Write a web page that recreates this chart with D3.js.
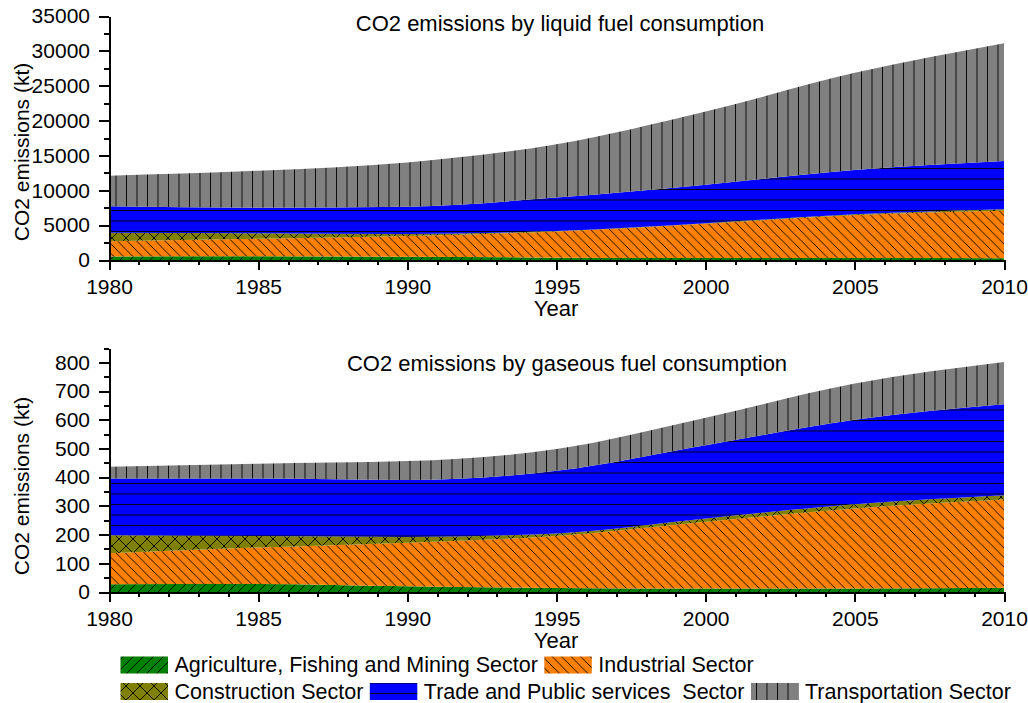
<!DOCTYPE html>
<html lang="en">
<head>
    <meta charset="UTF-8">
    <title>CO2 emissions by fuel consumption</title>
    <script src="https://d3js.org/d3.v7.min.js"></script>
    <style>
        body {
            margin: 0;
            padding: 0;
            background: #fff;
        }
        svg {
            display: block;
            font-family: "Liberation Sans", Arial, sans-serif;
        }
        .axis path,
        .axis line {
            stroke: #000;
            stroke-width: 2px;
            shape-rendering: crispEdges;
        }
        .axis text {
            font-size: 21px;
            fill: #000;
        }
        .label {
            font-size: 22px;
            fill: #000;
            white-space: pre;
        }
        .legend text {
            font-size: 21.5px;
        }
        .ylabel {
            font-size: 21px;
            fill: #000;
        }
    </style>
</head>
<body>
    <svg id="chart" width="1028" height="703"></svg>

    <script>
        // Years
        const years = [1980, 1985, 1990, 1995, 2000, 2005, 2010];

        const sectors = [
            "Agriculture, Fishing and Mining Sector",
            "Industrial Sector",
            "Construction Sector",
            "Trade and Public services  Sector",
            "Transportation Sector"
        ];
        const sectorKeys = ["agri", "ind", "cons", "trade", "trans"];

        // Liquid fuel (kt)
        const liquidAgri  = [500, 550, 480, 340, 300, 280, 250];
        const liquidInd   = [2200, 2500, 2960, 3740, 4900, 6170, 6830];
        const liquidCons  = [1200, 780, 290, 70, 80, 100, 190];
        const liquidTrade = [3800, 3670, 3920, 4800, 5520, 6350, 6930];
        const liquidTrans = [4400, 5300, 6350, 7650, 10500, 13950, 16900];

        // Gaseous fuel (kt)
        const gasAgri  = [27, 28, 20, 14, 12, 12, 15];
        const gasInd   = [108, 127, 152, 181, 233, 279, 307];
        const gasCons  = [63, 40, 20, 9, 11, 15, 15];
        const gasTrade = [197, 200, 198, 218, 255, 294, 317];
        const gasTrans = [41, 52, 66, 76, 96, 126, 147];

        // Tick labels
        const xTicks = [1980, 1985, 1990, 1995, 2000, 2005, 2010];
        const liquidTicks = [0, 5000, 10000, 15000, 20000, 25000, 30000, 35000];
        const gasTicks = [0, 100, 200, 300, 400, 500, 600, 700, 800];

        const svg = d3.select("#chart");
        const defs = svg.append("defs");

        function hatch(id, fill, size, d) {
            const p = defs.append("pattern")
                .attr("id", id)
                .attr("patternUnits", "userSpaceOnUse")
                .attr("width", size)
                .attr("height", size);
            p.append("rect").attr("width", size).attr("height", size).attr("fill", fill);
            p.append("path").attr("d", d)
                .attr("stroke", "#000")
                .attr("stroke-width", 0.9)
                .attr("fill", "none");
        }
        hatch("p-agri", "#008000", 10, "M0,10L10,0M-1,1L1,-1M9,11L11,9");
        hatch("p-ind", "#ff8000", 9.5, "M0,0L9.5,9.5M-1,8.5L1,10.5M8.5,-1L10.5,1");
        hatch("p-cons", "#808000", 14, "M0,0L14,14M14,0L0,14");
        hatch("p-trade", "#0000ff", 10.5, "M0,0.5L10.5,0.5");
        hatch("p-trans", "#808080", 10.5, "M0.5,0L0.5,10.5");

        const fills = sectorKeys.map(k => `url(#p-${k})`);

        const x = d3.scaleLinear().domain([1980, 2010]).range([109, 1004]);

        function drawPanel(opt) {
            const rows = years.map((yr, i) => {
                const r = { Year: yr };
                sectorKeys.forEach((k, j) => r[k] = opt.series[j][i]);
                return r;
            });
            const stacked = d3.stack().keys(sectorKeys)(rows);

            const y = d3.scaleLinear()
                .domain([0, opt.yMax])
                .range([opt.bottom, opt.bottom - 244]);

            const area = d3.area()
                .x(d => x(d.data.Year))
                .y0(d => y(d[0]))
                .y1(d => y(d[1]))
                .curve(d3.curveMonotoneX);

            svg.append("g")
                .selectAll("path")
                .data(stacked)
                .enter()
                .append("path")
                .attr("d", area)
                .attr("fill", (d, i) => fills[i]);

            // minor ticks
            const minorX = d3.range(1980, 2011).filter(v => v % 5 !== 0);
            svg.append("g")
                .attr("class", "axis")
                .attr("transform", `translate(0,${opt.bottom})`)
                .call(d3.axisBottom(x).tickValues(minorX).tickSize(5).tickFormat(""))
                .call(g => g.select(".domain").remove());

            const minorY = d3.range(opt.yStep / 2, opt.yMax + 1, opt.yStep);
            svg.append("g")
                .attr("class", "axis")
                .attr("transform", "translate(109,0)")
                .call(d3.axisLeft(y).tickValues(minorY).tickSize(5).tickFormat(""))
                .call(g => g.select(".domain").remove());

            svg.append("g")
                .attr("class", "axis")
                .attr("transform", `translate(0,${opt.bottom})`)
                .call(d3.axisBottom(x).tickValues(xTicks).tickSize(10).tickSizeOuter(0)
                    .tickPadding(9).tickFormat(d3.format("d")));

            svg.append("g")
                .attr("class", "axis")
                .attr("transform", "translate(109,0)")
                .call(d3.axisLeft(y).tickValues(opt.yTicks).tickSize(10).tickSizeOuter(0)
                    .tickPadding(9).tickFormat(d3.format("d")));

            svg.append("text")
                .attr("class", "label")
                .attr("x", opt.titleX)
                .attr("y", opt.titleY)
                .attr("text-anchor", "middle")
                .text(opt.title);

            svg.append("text")
                .attr("class", "label")
                .attr("x", 556)
                .attr("y", opt.bottom + 56)
                .attr("text-anchor", "middle")
                .text("Year");

            svg.append("text")
                .attr("class", "ylabel")
                .attr("transform", `translate(29,${opt.yLabelY}) rotate(-90)`)
                .attr("text-anchor", "middle")
                .text("CO2 emissions (kt)");
        }

        drawPanel({
            series: [liquidAgri, liquidInd, liquidCons, liquidTrade, liquidTrans],
            yMax: 35000, yStep: 5000, yTicks: liquidTicks,
            bottom: 260,
            title: "CO2 emissions by liquid fuel consumption",
            titleX: 560, titleY: 31, yLabelY: 152
        });

        drawPanel({
            series: [gasAgri, gasInd, gasCons, gasTrade, gasTrans],
            yMax: 850, yStep: 100, yTicks: gasTicks,
            bottom: 592,
            title: "CO2 emissions by gaseous fuel consumption",
            titleX: 567, titleY: 371, yLabelY: 486
        });

        // Legend, two rows flowing left to right
        const legendRows = [[0, 1], [2, 3, 4]];
        const legend = svg.append("g").attr("class", "legend");
        legendRows.forEach((row, r) => {
            let cx = 120.5;
            const top = 656.5 + r * 26.5;
            row.forEach(i => {
                legend.append("rect")
                    .attr("x", cx)
                    .attr("y", top)
                    .attr("width", 47.5)
                    .attr("height", 17)
                    .attr("fill", fills[i]);
                const t = legend.append("text")
                    .attr("class", "label")
                    .attr("x", cx + 54)
                    .attr("y", top + 15.5)
                    .text(sectors[i]);
                cx += 54 + t.node().getComputedTextLength() + 6.5;
            });
        });
    </script>
</body>
</html>
